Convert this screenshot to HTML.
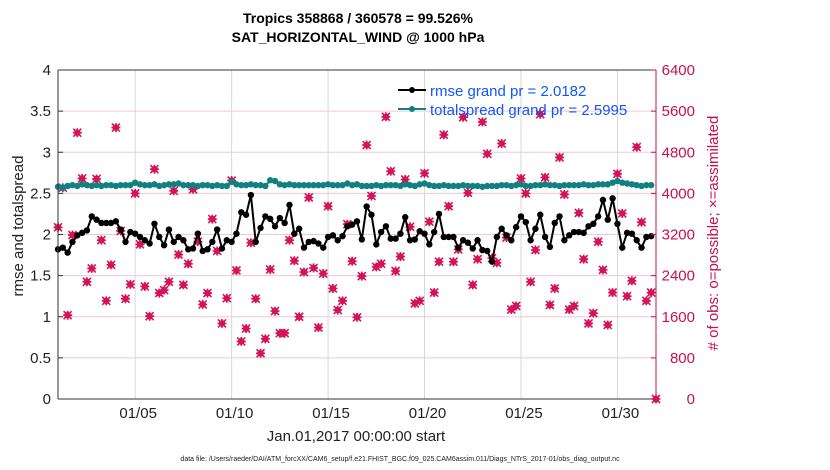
<!DOCTYPE html>
<html><head><meta charset="utf-8"><style>
body{margin:0;background:#fff;}
svg{display:block;font-family:"Liberation Sans",Arial,sans-serif;}
</style></head><body>
<svg id="chart" width="830" height="470" viewBox="0 0 830 470">
<text x="358" y="23" text-anchor="middle" font-size="14" font-weight="bold">Tropics 358868 / 360578 = 99.526%</text>
<text x="358" y="42" text-anchor="middle" font-size="14" font-weight="bold">SAT_HORIZONTAL_WIND @ 1000 hPa</text>
<g id="grid"></g>
<g id="marks"></g>
<g id="axes"></g>
<text transform="translate(23,226) rotate(-90)" text-anchor="middle" font-size="15" fill="#222">rmse and totalspread</text>
<text transform="translate(718,233) rotate(-90)" text-anchor="middle" font-size="15" fill="#c8104f"># of obs: o=possible; ×=assimilated</text>
<text x="356" y="441" text-anchor="middle" font-size="15" fill="#222">Jan.01,2017 00:00:00 start</text>
<text x="400" y="461" text-anchor="middle" font-size="7" fill="#222">data file: /Users/raeder/DAI/ATM_forcXX/CAM6_setup/f.e21.FHIST_BGC.f09_025.CAM6assim.011/Diags_NTrS_2017-01/obs_diag_output.nc</text>
<g>
<line x1="398" y1="90" x2="426" y2="90" stroke="#000" stroke-width="2"/><circle cx="412" cy="90" r="3" fill="#000"/>
<text x="430" y="96" font-size="15" fill="#1155ff">rmse grand pr = 2.0182</text>
<line x1="398" y1="109" x2="426" y2="109" stroke="#108080" stroke-width="2"/><circle cx="412" cy="109" r="3" fill="#108080"/>
<text x="430" y="115" font-size="15" fill="#1155ff">totalspread grand pr = 2.5995</text>
</g>
</svg>
<script>
const rmse=[1.82,1.84,1.78,1.91,1.99,2.02,2.05,2.22,2.18,2.14,
2.14,2.14,2.16,2.06,1.91,2.03,2.01,1.97,1.93,1.89,
2.13,1.97,1.87,2.06,1.91,1.97,1.93,1.82,1.83,2.01,
1.80,1.82,1.91,2.06,1.83,1.93,1.91,2.01,2.27,2.24,
2.48,1.91,2.08,2.22,2.19,2.10,2.20,2.14,2.36,2.01,
2.07,1.84,1.91,1.92,1.89,1.84,1.97,1.99,1.93,1.98,
2.10,2.12,2.16,1.94,2.34,2.24,1.88,2.03,2.10,1.95,
1.95,2.01,2.21,1.93,1.94,2.04,2.01,1.88,2.03,2.25,
1.97,1.97,1.97,1.84,1.93,1.90,1.83,1.93,1.81,1.80,
1.67,1.97,2.07,1.99,1.93,2.09,2.22,2.15,1.93,2.07,
2.24,1.97,1.85,2.14,2.22,1.93,1.99,2.03,2.03,2.02,
2.10,2.13,2.22,2.42,2.18,2.44,2.13,1.84,2.02,2.01,
1.93,1.84,1.97,1.98];
const spread=[2.58,2.57,2.59,2.60,2.59,2.61,2.60,2.59,2.60,2.59,
2.60,2.60,2.59,2.60,2.60,2.60,2.63,2.61,2.60,2.60,
2.61,2.59,2.60,2.61,2.61,2.62,2.60,2.60,2.60,2.59,
2.60,2.60,2.59,2.60,2.59,2.59,2.64,2.61,2.60,2.60,
2.61,2.60,2.60,2.59,2.66,2.65,2.61,2.60,2.61,2.60,
2.60,2.60,2.60,2.60,2.60,2.60,2.61,2.60,2.60,2.60,
2.62,2.60,2.61,2.59,2.59,2.59,2.60,2.59,2.60,2.60,
2.60,2.59,2.61,2.60,2.59,2.61,2.62,2.60,2.59,2.59,
2.60,2.59,2.59,2.59,2.60,2.59,2.59,2.59,2.58,2.59,
2.59,2.59,2.60,2.60,2.59,2.60,2.61,2.59,2.59,2.60,
2.60,2.61,2.60,2.60,2.59,2.60,2.60,2.60,2.60,2.61,
2.60,2.60,2.61,2.61,2.61,2.63,2.65,2.63,2.62,2.61,
2.60,2.59,2.60,2.60];
const nobs=[3340,4110,1630,3190,5180,4290,2280,2540,4280,3090,
1910,2610,5280,3270,1950,2230,4000,3010,2190,1610,
4470,2060,2120,2280,4050,2810,2220,2630,4080,3060,
1840,2060,3500,2880,1470,1960,4250,2500,1120,1370,
3040,1950,890,1170,2520,1710,1280,1280,3090,2690,
1600,2470,3920,2550,1390,2440,3750,2150,1730,1910,
3400,2680,1590,2390,4940,3950,2570,2630,5490,4430,
2490,2770,4270,3350,1860,1910,4390,3450,2070,2670,
5140,3750,2670,2910,5480,4010,2220,2720,5390,4770,
2740,2650,4970,3140,1740,1810,4290,4000,2280,2900,
5540,4310,1830,2150,4700,3980,1740,1810,3620,2720,
1470,1670,3060,2510,1440,2070,4380,3610,2000,2300,
4900,3440,1910,2070,0];
const xTickDays=[4,9,14,19,24,29];
const xTickLabels=["01/05","01/10","01/15","01/20","01/25","01/30"];
const yTicks=[0,0.5,1,1.5,2,2.5,3,3.5,4];
const yTickLabels=["0","0.5","1","1.5","2","2.5","3","3.5","4"];
const y2Ticks=[0,800,1600,2400,3200,4000,4800,5600,6400];
const stepDays=0.25;

const L=58,R=656,T=70,B=399,XMAX=31;
const xS=d=>L+d/XMAX*(R-L);
const yS=v=>B-v/4*(B-T);
const y2S=v=>B-v/6400*(B-T);
const NS="http://www.w3.org/2000/svg";
function mk(tag,parent){const e=document.createElementNS(NS,tag);parent.appendChild(e);return e;}
const grid=document.getElementById('grid'),marks=document.getElementById('marks'),axes=document.getElementById('axes');

y2Ticks.forEach((v,i)=>{
  if(i===0||i===y2Ticks.length-1)return;
  const l=mk('line',grid);
  
  
  l.setAttribute('x1',L);l.setAttribute('x2',R);l.setAttribute('y1',y2S(v));l.setAttribute('y2',y2S(v));
  l.setAttribute('stroke','#f3c6d6');l.setAttribute('stroke-width','1');
});
xTickDays.forEach(d=>{
  const l=mk('line',grid);
  
  
  l.setAttribute('x1',xS(d));l.setAttribute('x2',xS(d));l.setAttribute('y1',T);l.setAttribute('y2',B);
  l.setAttribute('stroke','#d8d8d8');l.setAttribute('stroke-width','1');
});

nobs.forEach((v,i)=>{
  const cx=xS(i*stepDays),cy=y2S(v);
  const g=mk('g',marks);
  
  
  const c=mk('circle',g);
  c.setAttribute('cx',cx);c.setAttribute('cy',cy);c.setAttribute('r','3.3');c.setAttribute('fill','#d4145a');
  const p=mk('path',g);
  p.setAttribute('d',`M${cx-4} ${cy-4}L${cx+4} ${cy+4}M${cx-4} ${cy+4}L${cx+4} ${cy-4}M${cx} ${cy-4.5}L${cx} ${cy+4.5}M${cx-4.5} ${cy}L${cx+4.5} ${cy}`);
  p.setAttribute('stroke','#d4145a');p.setAttribute('stroke-width','1.6');
});

function series(arr,color,name){
  const pts=arr.map((v,i)=>xS(i*stepDays).toFixed(1)+','+yS(v).toFixed(1)).join(' ');
  const pl=mk('polyline',marks);
  
  
  pl.setAttribute('points',pts);pl.setAttribute('fill','none');
  pl.setAttribute('stroke',color);pl.setAttribute('stroke-width','2');
  arr.forEach((v,i)=>{
    const c=mk('circle',marks);
    
    
    c.setAttribute('cx',xS(i*stepDays));c.setAttribute('cy',yS(v));c.setAttribute('r','3.2');c.setAttribute('fill',color);
  });
}
series(spread,'#108080','totalspread');
series(rmse,'#000000','rmse');

const fr=[[L,T,L,B,'#333'],[L,B,R,B,'#333'],[L,T,R,T,'#333'],[R,T,R,B,'#c8104f']];
fr.forEach(f=>{
  const l=mk('line',axes);
  
  
  l.setAttribute('x1',f[0]);l.setAttribute('y1',f[1]);l.setAttribute('x2',f[2]);l.setAttribute('y2',f[3]);
  l.setAttribute('stroke',f[4]);l.setAttribute('stroke-width','1');
});
yTicks.forEach((v,i)=>{
  const t=mk('text',axes);
  
  
  t.setAttribute('x',L-7);t.setAttribute('y',yS(v)+5);t.setAttribute('text-anchor','end');t.setAttribute('font-size','15');t.setAttribute('fill','#222');
  t.textContent=yTickLabels[i];
  const k=mk('line',axes);
  
  
  k.setAttribute('x1',L);k.setAttribute('x2',L+5);k.setAttribute('y1',yS(v));k.setAttribute('y2',yS(v));k.setAttribute('stroke','#333');
});
y2Ticks.forEach(v=>{
  const t=mk('text',axes);
  
  
  t.setAttribute('x',695);t.setAttribute('y',y2S(v)+5);t.setAttribute('text-anchor','end');t.setAttribute('font-size','15');t.setAttribute('fill','#c8104f');
  t.textContent=String(v);
  const k=mk('line',axes);
  
  
  k.setAttribute('x1',R-5);k.setAttribute('x2',R);k.setAttribute('y1',y2S(v));k.setAttribute('y2',y2S(v));k.setAttribute('stroke','#c8104f');
});
xTickDays.forEach((d,i)=>{
  const t=mk('text',axes);
  
  
  t.setAttribute('x',xS(d)+3);t.setAttribute('y',418);t.setAttribute('text-anchor','middle');t.setAttribute('font-size','15');t.setAttribute('fill','#222');
  t.textContent=xTickLabels[i];
});
</script>
</body></html>
